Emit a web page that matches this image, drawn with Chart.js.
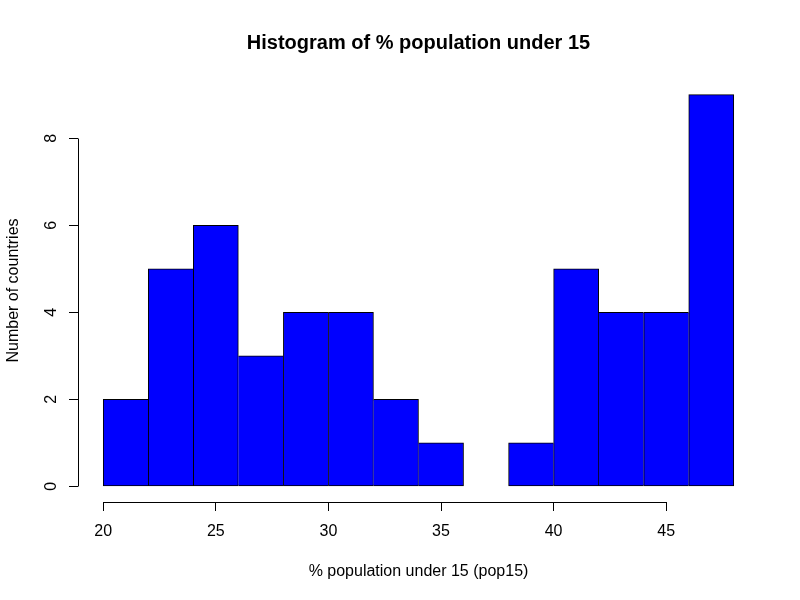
<!DOCTYPE html>
<html>
<head>
<meta charset="utf-8">
<script src="https://cdn.jsdelivr.net/npm/chart.js@4/dist/chart.umd.min.js"></script>
<style>
  html, body { margin: 0; padding: 0; background: #fff; }
  #wrap { width: 800px; height: 600px; }
</style>
</head>
<body>
<div id="wrap"><canvas id="c" width="800" height="600"></canvas></div>
<script>
// ---- data ----
const binStarts = [20, 22, 24, 26, 28, 30, 32, 34, 36, 38, 40, 42, 44, 46];
const binWidth = 2;
const counts = [2, 5, 6, 3, 4, 4, 2, 1, 0, 1, 5, 4, 4, 9];
const xTicks = [20, 25, 30, 35, 40, 45];
const yTicks = [0, 2, 4, 6, 8];
const chartTitle = 'Histogram of % population under 15';
const xTitle = '% population under 15 (pop15)';
const yTitle = 'Number of countries';

const FONT = "'Liberation Sans', Arial, Helvetica, sans-serif";
Chart.defaults.font.family = FONT;
Chart.defaults.color = '#000';

const xMinData = binStarts[0];
const xMaxData = binStarts[binStarts.length - 1] + binWidth;
const yMaxData = Math.max(...counts);
const xPad = (xMaxData - xMinData) * 0.04;
const yPad = yMaxData * 0.04;

const barData = binStarts.map((s, i) => ({ x: s + binWidth / 2, y: counts[i] }));

function sideBorders(ctx) {
  const i = ctx.dataIndex;
  const n = counts.length;
  if (counts[i] === 0) return 0;
  const left = (i === 0 || counts[i] >= counts[i - 1]) ? 1 : 0;
  const right = (i === n - 1 || counts[i] > counts[i + 1]) ? 1 : 0;
  return { left: left, right: right, top: 1, bottom: 1 };
}

const axisLines = {
  id: 'axisLines',
  afterDraw(chart) {
    const c = chart.ctx;
    const xs = chart.scales.x, ys = chart.scales.y;
    c.save();
    c.strokeStyle = '#000';
    c.lineWidth = 1;
    c.beginPath();
    const yLine = Math.round(chart.chartArea.bottom) + 0.5;
    c.moveTo(Math.round(xs.getPixelForValue(xTicks[0])) + 0.5, yLine);
    c.lineTo(Math.round(xs.getPixelForValue(xTicks[xTicks.length - 1])) + 0.5, yLine);
    const xLine = Math.round(chart.chartArea.left) + 0.5;
    c.moveTo(xLine, Math.round(ys.getPixelForValue(yTicks[0])) + 0.5);
    c.lineTo(xLine, Math.round(ys.getPixelForValue(yTicks[yTicks.length - 1])) + 0.5);
    c.stroke();
    c.restore();
  }
};

new Chart(document.getElementById('c'), {
  type: 'bar',
  data: {
    datasets: [{
      data: barData,
      backgroundColor: ctx => counts[ctx.dataIndex] === 0 ? 'rgba(0,0,0,0)' : '#0000FF',
      borderColor: '#000000',
      borderWidth: sideBorders,
      borderSkipped: false,
      barPercentage: 1,
      categoryPercentage: 1
    }]
  },
  options: {
    responsive: false,
    animation: false,
    devicePixelRatio: 1,
    layout: { padding: { left: 0, right: 41, top: 0, bottom: 0 } },
    plugins: {
      legend: { display: false },
      tooltip: { enabled: false },
      title: {
        display: true,
        text: chartTitle,
        fullSize: false,
        font: { size: 20, weight: 'bold', family: FONT },
        color: '#000',
        padding: { top: 31, bottom: 24 }
      }
    },
    scales: {
      x: {
        type: 'linear',
        offset: false,
        min: xMinData - xPad,
        max: xMaxData + xPad,
        afterBuildTicks: s => { s.ticks = xTicks.map(v => ({ value: v })); },
        afterFit: s => { s.height = 98; },
        border: { display: false },
        grid: { offset: false, drawOnChartArea: false, drawTicks: true, tickLength: 9, color: '#000', lineWidth: 1 },
        ticks: { font: { size: 16 }, color: '#000', padding: 10.5, maxRotation: 0, autoSkip: false },
        title: { display: true, text: xTitle, font: { size: 16 }, color: '#000', padding: { top: 0, bottom: 19 } }
      },
      y: {
        type: 'linear',
        min: -yPad,
        max: yMaxData + yPad,
        afterBuildTicks: s => { s.ticks = yTicks.map(v => ({ value: v })); },
        afterFit: s => { s.width = 78; },
        border: { display: false },
        grid: { drawOnChartArea: false, drawTicks: true, tickLength: 9, color: '#000', lineWidth: 1 },
        ticks: { font: { size: 16 }, color: '#000', padding: 13, minRotation: 90, maxRotation: 90, crossAlign: 'center', autoSkip: false },
        title: { display: true, text: yTitle, font: { size: 16 }, color: '#000', padding: { top: 4.3, bottom: 0 } }
      }
    }
  },
  plugins: [axisLines]
});
</script>
</body>
</html>
